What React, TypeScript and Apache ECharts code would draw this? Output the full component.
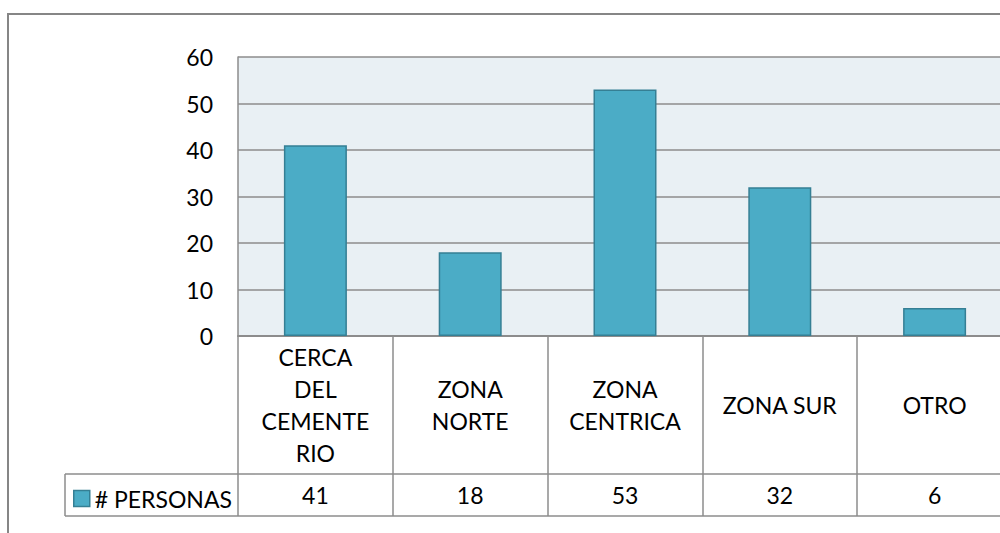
import React, { useEffect, useRef } from "react";
import * as echarts from "echarts";

const categoryLabels = ["CERCA\nDEL\nCEMENTE\nRIO", "ZONA\nNORTE", "ZONA\nCENTRICA", "ZONA SUR", "OTRO"];
const seriesName = "# PERSONAS";
const values = [41, 18, 53, 32, 6];
const yTicks = { min: 0, max: 60, interval: 10 };

const FONT = "Lato";
const GRAY = "#8C8C8C";
const BAR = "#4BACC6";
const BAR_BORDER = "#357F94";

export default function App() {
  const ref = useRef<HTMLDivElement>(null);
  useEffect(() => {
    if (!ref.current) return;
    const chart = echarts.init(ref.current, null, { renderer: "svg" });
    chart.setOption({
      animation: false,
      textStyle: { fontFamily: FONT },
      grid: {
        left: 238,
        top: 57,
        width: 774,
        height: 279,
        show: true,
        backgroundColor: "#E9F0F4",
        borderWidth: 0,
        containLabel: false,
        outerBoundsMode: "none",
      },
      legend: {
        left: 73,
        top: 487,
        padding: 0,
        itemWidth: 16,
        itemHeight: 16,
        icon: "rect",
        itemStyle: { color: BAR, borderColor: BAR_BORDER, borderWidth: 1.5 },
        textStyle: { fontSize: 23, lineHeight: 16, color: "#000", fontFamily: FONT },
        data: [seriesName],
      },
      xAxis: [
        {
          type: "category",
          data: categoryLabels,
          position: "bottom",
          axisLine: { show: true, lineStyle: { color: GRAY, width: 2 } },
          axisTick: { show: true, length: 180, lineStyle: { color: GRAY, width: 1.5 } },
          axisLabel: {
            interval: 0,
            fontSize: 23,
            lineHeight: 32,
            color: "#000",
            fontFamily: FONT,
            verticalAlign: "middle",
            margin: 69,
            align: "center",
          },
        },
        {
          type: "category",
          data: values.map(String),
          position: "bottom",
          offset: 138,
          axisLine: { show: true, lineStyle: { color: GRAY, width: 1.5 } },
          axisTick: { show: false },
          axisLabel: {
            interval: 0,
            fontSize: 23,
            color: "#000",
            fontFamily: FONT,
            verticalAlign: "middle",
            margin: 21,
          },
        },
      ],
      yAxis: {
        type: "value",
        min: yTicks.min,
        max: yTicks.max,
        interval: yTicks.interval,
        axisLine: { show: true, lineStyle: { color: GRAY, width: 1.5 } },
        axisTick: { show: false },
        splitLine: { show: true, lineStyle: { color: GRAY, width: 1.5 } },
        axisLabel: { fontSize: 23, color: "#000", fontFamily: FONT, margin: 25 },
      },
      series: [
        {
          name: seriesName,
          type: "bar",
          xAxisIndex: 0,
          data: values,
          barWidth: 63,
          itemStyle: { color: BAR, borderColor: BAR_BORDER, borderWidth: 1.5 },
        },
      ],
      graphic: [
        {
          type: "rect",
          shape: { x: 8, y: 14, width: 1200, height: 700 },
          style: { fill: "none", stroke: "#868686", lineWidth: 2 },
          silent: true,
        },
        {
          type: "line",
          shape: { x1: 65, y1: 474, x2: 238, y2: 474 },
          style: { stroke: GRAY, lineWidth: 1.5 },
        },
        {
          type: "line",
          shape: { x1: 65, y1: 516, x2: 1012, y2: 516 },
          style: { stroke: GRAY, lineWidth: 1.5 },
        },
        {
          type: "line",
          shape: { x1: 65, y1: 474, x2: 65, y2: 516 },
          style: { stroke: GRAY, lineWidth: 1.5 },
        },
      ],
    });
    return () => chart.dispose();
  }, []);
  return (
    <div
      ref={ref}
      style={{ position: "fixed", left: 0, top: 0, width: 1000, height: 533, background: "#fff" }}
    />
  );
}
